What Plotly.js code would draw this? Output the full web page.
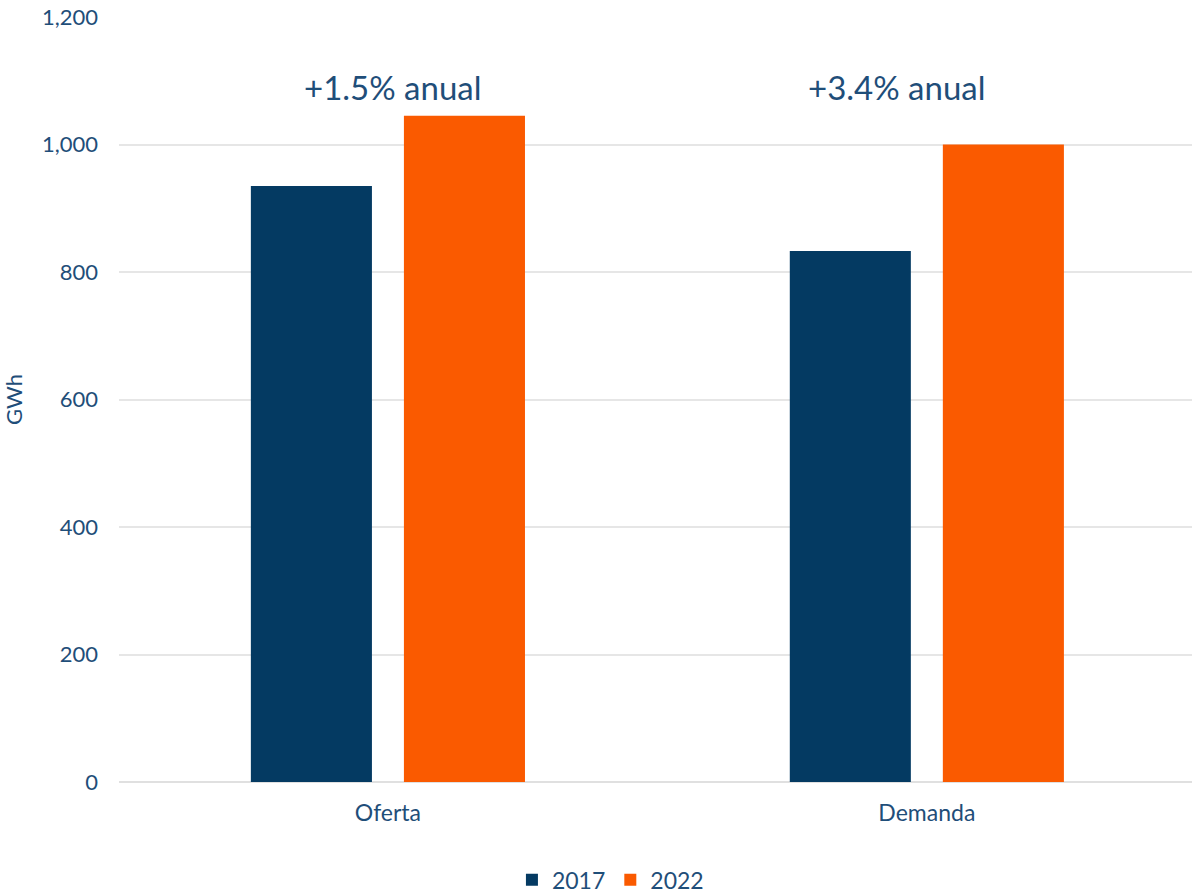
<!DOCTYPE html>
<html>
<head>
<meta charset="utf-8">
<script src="https://cdn.plot.ly/plotly-3.0.1.min.js"></script>
<style>html,body{margin:0;padding:0;background:#fff;}#chart{width:1192px;height:894px;}</style>
</head>
<body>
<div id="chart"></div>
<script>
const categories = ["Oferta", "Demanda"];
const values2017 = [935, 833];
const values2022 = [1045, 1000];
const seriesNames = ["2017", "2022"];
const growthLabels = ["+1.5% anual", "+3.4% anual"];
const yTicks = [0, 200, 400, 600, 800, 1000, 1200];

const textColor = "#1f4e79";
const fontFamily = "Lato, 'Noto Sans', sans-serif";

const traces = [
  {type: "bar", name: seriesNames[0], x: categories, y: values2017, marker: {color: "#043a62"}},
  {type: "bar", name: seriesNames[1], x: categories, y: values2022, marker: {color: "#fa5a00"}}
];

const annOffsets = [0.01, -0.056];
const annotations = growthLabels.map((t, i) => ({
  x: i + annOffsets[i], y: 1090, xref: "x", yref: "y", text: t, showarrow: false,
  font: {size: 33, color: textColor, family: fontFamily}, xanchor: "center", yanchor: "middle"
}));

const layout = {
  width: 1192, height: 894,
  margin: {l: 119, r: 0, t: 17, b: 112, autoexpand: false},
  paper_bgcolor: "#fff", plot_bgcolor: "#fff",
  font: {family: fontFamily, color: textColor, size: 22},
  barmode: "group", bargap: 0.432, bargroupgap: 0.209,
  xaxis: {range: [-0.499, 1.492], showgrid: false, showline: false, zeroline: false,
          ticks: "", tickfont: {size: 23, color: textColor}, ticklabelstandoff: 15},
  yaxis: {range: [0, 1200], tickvals: yTicks, tickformat: ",d", showgrid: true,
          gridcolor: "#e6e6e6", gridwidth: 2, zeroline: true, zerolinecolor: "#e0e0e0", zerolinewidth: 2,
          showline: false, ticks: "", ticklabelstandoff: 20,
          tickfont: {size: 22, color: textColor},
          title: {text: "GWh", font: {size: 22, color: textColor}, standoff: 14}},
  showlegend: true,
  legend: {orientation: "h", x: 0.458, xanchor: "center", y: -0.128, yanchor: "middle",
           font: {size: 23, color: textColor}, traceorder: "normal", itemwidth: 30},
  annotations: annotations
};

Plotly.newPlot("chart", traces, layout, {displayModeBar: false, staticPlot: true});
</script>
</body>
</html>
